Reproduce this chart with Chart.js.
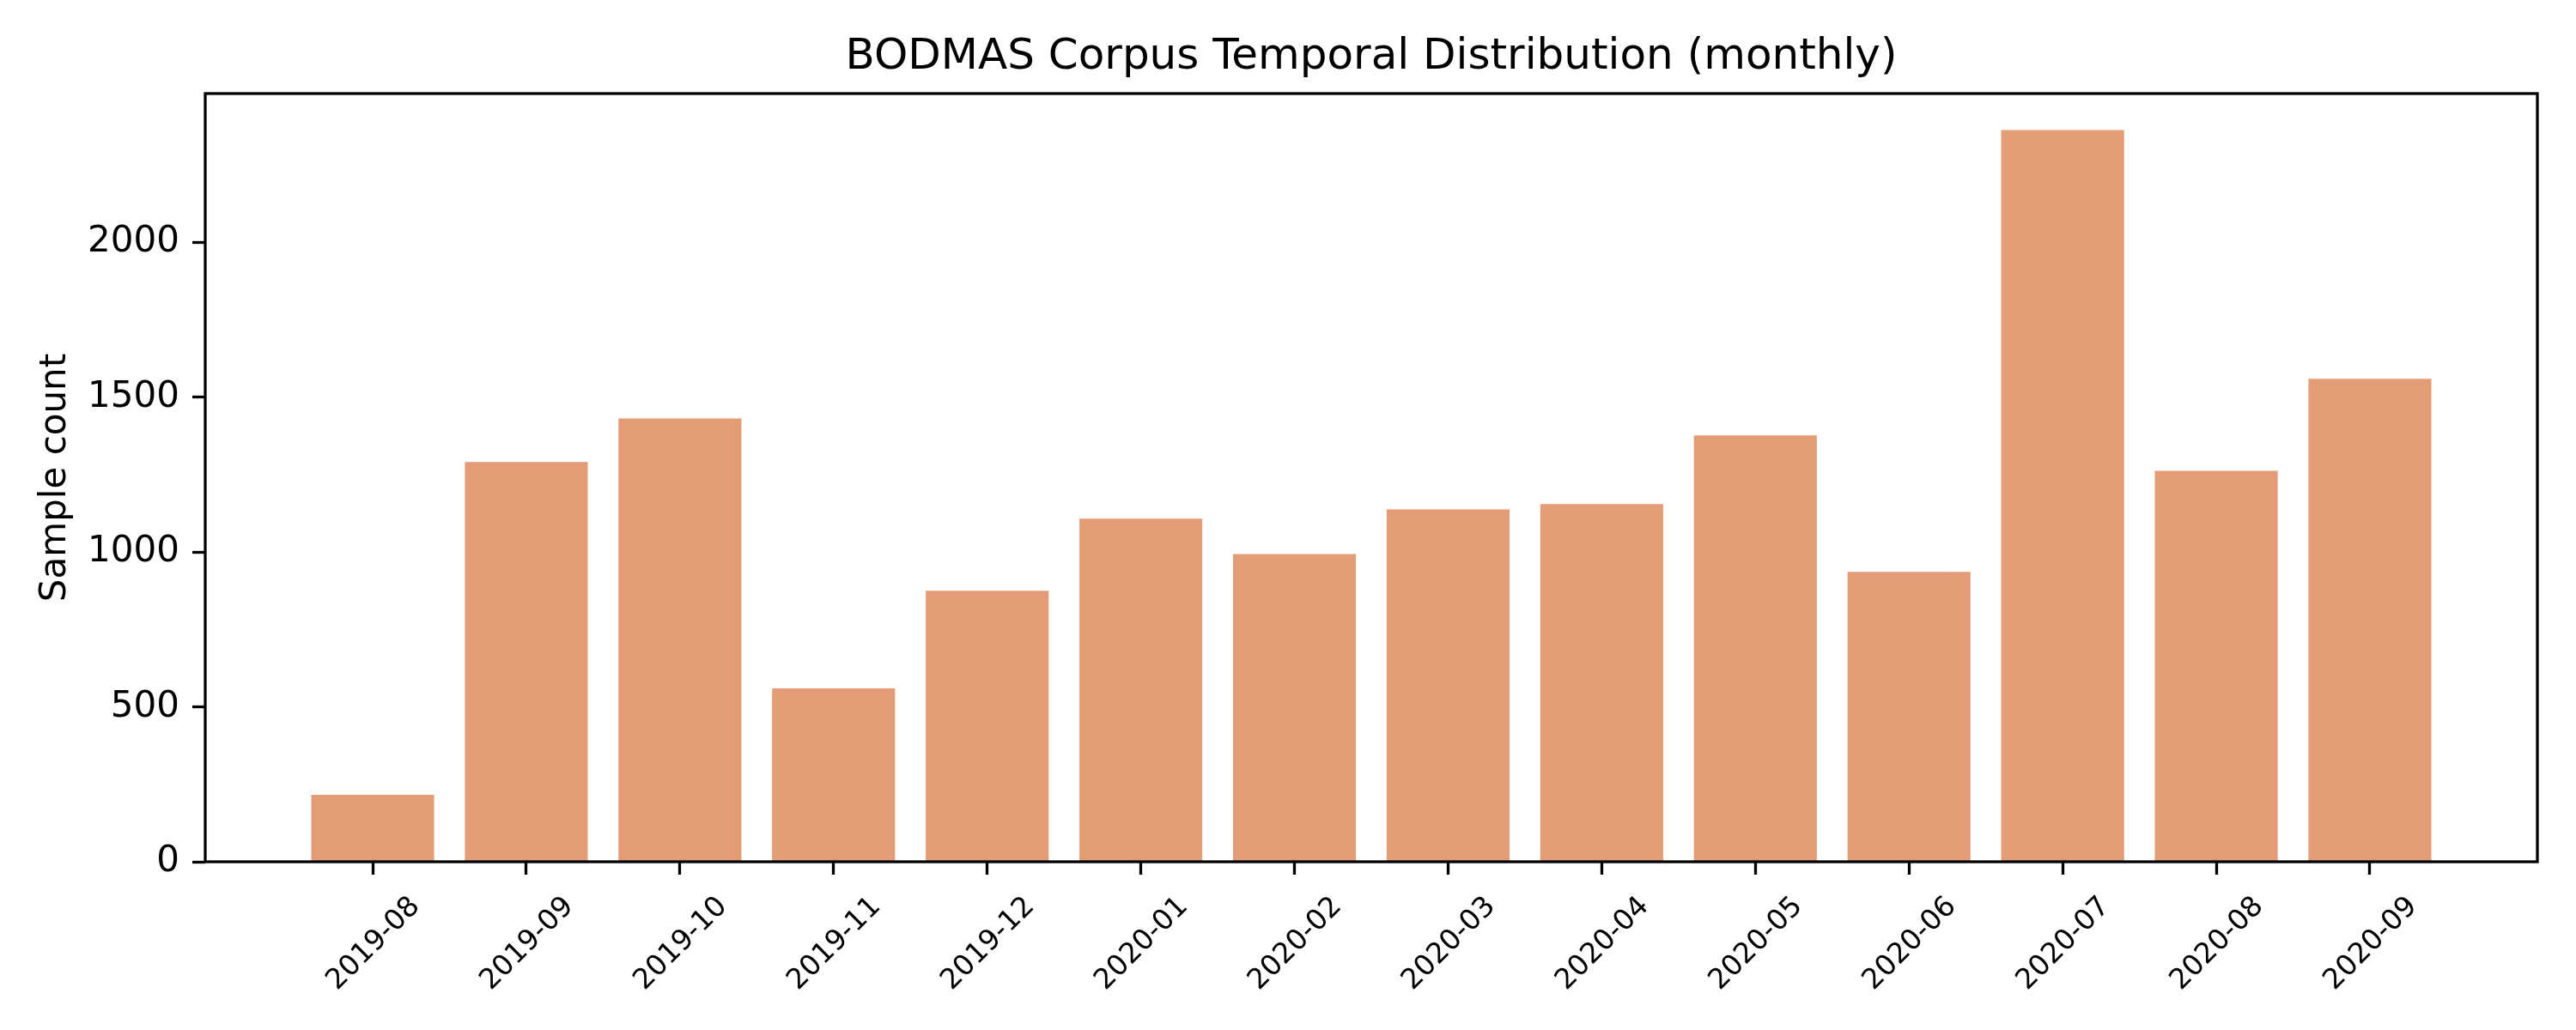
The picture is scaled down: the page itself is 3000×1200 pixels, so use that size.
<!DOCTYPE html>
<html>
<head>
<meta charset="utf-8">
<script src="https://cdn.jsdelivr.net/npm/chart.js@4.4.1/dist/chart.umd.min.js"></script>
<style>
  html, body { margin: 0; padding: 0; background: #fff; }
  #wrap { width: 3000px; height: 1200px; }
</style>
</head>
<body>
<div id="wrap"><canvas id="barChart" width="3000" height="1200"></canvas></div>
<script>
const months = ["2019-08", "2019-09", "2019-10", "2019-11", "2019-12", "2020-01", "2020-02",
                "2020-03", "2020-04", "2020-05", "2020-06", "2020-07", "2020-08", "2020-09"];
const counts = [216, 1291, 1432, 560, 875, 1108, 994, 1138, 1155, 1377, 936, 2363, 1263, 1560];
const yTicks = [0, 500, 1000, 1500, 2000];

Chart.defaults.font.family = "'DejaVu Sans', sans-serif";
Chart.defaults.color = "#000";

// matplotlib style frame drawn over the bars
const spineBox = {
  id: "spineBox",
  afterDatasetsDraw(chart) {
    const { ctx, chartArea: a } = chart;
    ctx.save();
    ctx.strokeStyle = "#000";
    ctx.lineWidth = 3.3;
    ctx.strokeRect(a.left, a.top, a.right - a.left, a.bottom - a.top);
    ctx.restore();
  }
};

const barCtx = document.getElementById("barChart");
new Chart(barCtx, {
  type: "bar",
  data: {
    datasets: [{
      label: "Sample count",
      data: counts.map((v, i) => ({ x: i, y: v })),
      backgroundColor: "#e39c76",
      barPercentage: 1,
      categoryPercentage: 0.8
    }]
  },
  options: {
    responsive: false,
    animation: false,
    layout: { padding: { left: 0, right: 45, top: 0, bottom: 0 } },
    plugins: {
      legend: { display: false },
      tooltip: { enabled: false },
      title: {
        display: true,
        text: "BODMAS Corpus Temporal Distribution (monthly)",
        fullSize: false,
        font: { size: 50, weight: "normal" },
        padding: { top: 37, bottom: 12 }
      }
    },
    scales: {
      x: {
        type: "linear",
        offset: false,
        min: -1.09,
        max: months.length - 1 + 1.09,
        afterBuildTicks: (axis) => { axis.ticks = months.map((m, i) => ({ value: i })); },
        afterFit: (axis) => { axis.height = 196; },
        grid: { offset: false, drawOnChartArea: false, drawTicks: true, tickLength: 15, tickWidth: 3.3, tickColor: "#000" },
        border: { display: false },
        ticks: {
          autoSkip: false,
          maxRotation: 45,
          minRotation: 45,
          labelOffset: 50,
          padding: 18,
          font: { size: 33 },
          callback: (v) => months[v] ?? ""
        }
      },
      y: {
        min: 0,
        max: Math.max(...counts) * 1.05,
        afterBuildTicks: (axis) => { axis.ticks = yTicks.map(v => ({ value: v })); },
        afterFit: (axis) => { axis.width = 239; },
        grid: { drawOnChartArea: false, drawTicks: true, tickLength: 15, tickWidth: 3.3, tickColor: "#000" },
        border: { display: false },
        ticks: { padding: 15, font: { size: 42 }, callback: (v) => String(v) },
        title: {
          display: true,
          text: "Sample count",
          font: { size: 42 },
          padding: { top: 40, bottom: 0 }
        }
      }
    }
  },
  plugins: [spineBox]
});
</script>
</body>
</html>
